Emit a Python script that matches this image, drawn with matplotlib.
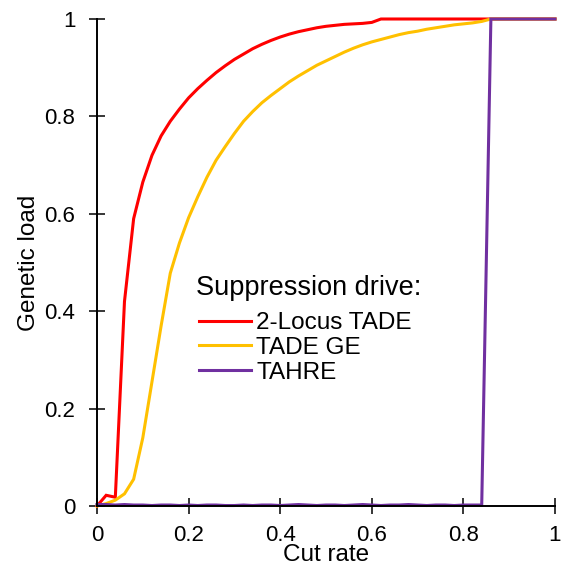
import numpy as np
import matplotlib
matplotlib.use('Agg')
import matplotlib.pyplot as plt

plt.rcParams['font.family'] = ['Liberation Sans', 'DejaVu Sans']

# cut rate grid (0 to 1, step 0.02)
cut_rate = np.linspace(0, 1, 51)

load_2locus = [0.0, 0.022, 0.018, 0.42, 0.59, 0.665, 0.72, 0.76, 0.79, 0.815,
               0.838, 0.857, 0.874, 0.89, 0.904, 0.917, 0.928, 0.939, 0.948, 0.956,
               0.963, 0.969, 0.974, 0.978, 0.982, 0.985, 0.987, 0.989, 0.99, 0.991,
               0.993, 1.0] + [1.0] * 19

load_tade_ge = [0.0, 0.005, 0.012, 0.025, 0.055, 0.14, 0.255, 0.37, 0.478, 0.54,
                0.592, 0.635, 0.675, 0.71, 0.738, 0.765, 0.79, 0.81, 0.828, 0.843,
                0.857, 0.871, 0.883, 0.894, 0.905, 0.914, 0.923, 0.932, 0.94, 0.947,
                0.953, 0.958, 0.963, 0.968, 0.972, 0.975, 0.979, 0.982, 0.985, 0.988,
                0.99, 0.992, 0.995, 1.0] + [1.0] * 7

load_tahre = [0.003, 0.003, 0.002, 0.003, 0.002, 0.002, 0.001, 0.002, 0.002, 0.001,
              0.002, 0.001, 0.002, 0.002, 0.001, 0.001, 0.002, 0.001, 0.002, 0.002,
              0.001, 0.002, 0.003, 0.002, 0.001, 0.002, 0.002, 0.001, 0.002, 0.003,
              0.002, 0.001, 0.002, 0.002, 0.003, 0.002, 0.001, 0.002, 0.002, 0.001,
              0.002, 0.002, 0.002] + [1.0] * 8

series = [
    ('2-Locus TADE', load_2locus, '#ff0000'),
    ('TADE GE', load_tade_ge, '#ffc000'),
    ('TAHRE', load_tahre, '#7030a0'),
]

fig = plt.figure(figsize=(5.61, 5.67), dpi=100)
ax = fig.add_axes([97/561, 1 - 506/567, 458/561, 487/567])

for name, vals, col in series:
    ax.plot(cut_rate, vals, color=col, lw=2.2, label=name, clip_on=False,
            solid_joinstyle='miter')

ax.set_xlim(0, 1)
ax.set_ylim(0, 1)
ticks = [0, 0.2, 0.4, 0.6, 0.8, 1]
ticklabels = ['0', '0.2', '0.4', '0.6', '0.8', '1']
ax.set_xticks(ticks)
ax.set_xticklabels(ticklabels)
ax.set_yticks(ticks)
ax.set_yticklabels(ticklabels)
ax.tick_params(direction='inout', length=11, width=1.1, labelsize=16)
ax.tick_params(axis='x', pad=8.5)
ax.tick_params(axis='y', pad=10)
ax.spines['top'].set_visible(False)
ax.spines['right'].set_visible(False)
ax.spines['left'].set_linewidth(1.4)
ax.spines['bottom'].set_linewidth(1.4)

ax.set_xlabel('Cut rate', fontsize=17.5, labelpad=-2)
ax.set_ylabel('Genetic load', fontsize=17.5, labelpad=3)

# legend title drawn separately so the gap below it matches
fig.text(196/561, 1 - 295/567, 'Suppression drive:', fontsize=19.5,
         ha='left', va='baseline')
leg = ax.legend(loc='center left',
                bbox_to_anchor=(199/561, 1 - 348/567), bbox_transform=fig.transFigure,
                frameon=False, fontsize=17.5,
                handlelength=2.15, handletextpad=0.2, labelspacing=0.12,
                borderpad=0, borderaxespad=0)

fig.savefig('out.png', dpi=100)
